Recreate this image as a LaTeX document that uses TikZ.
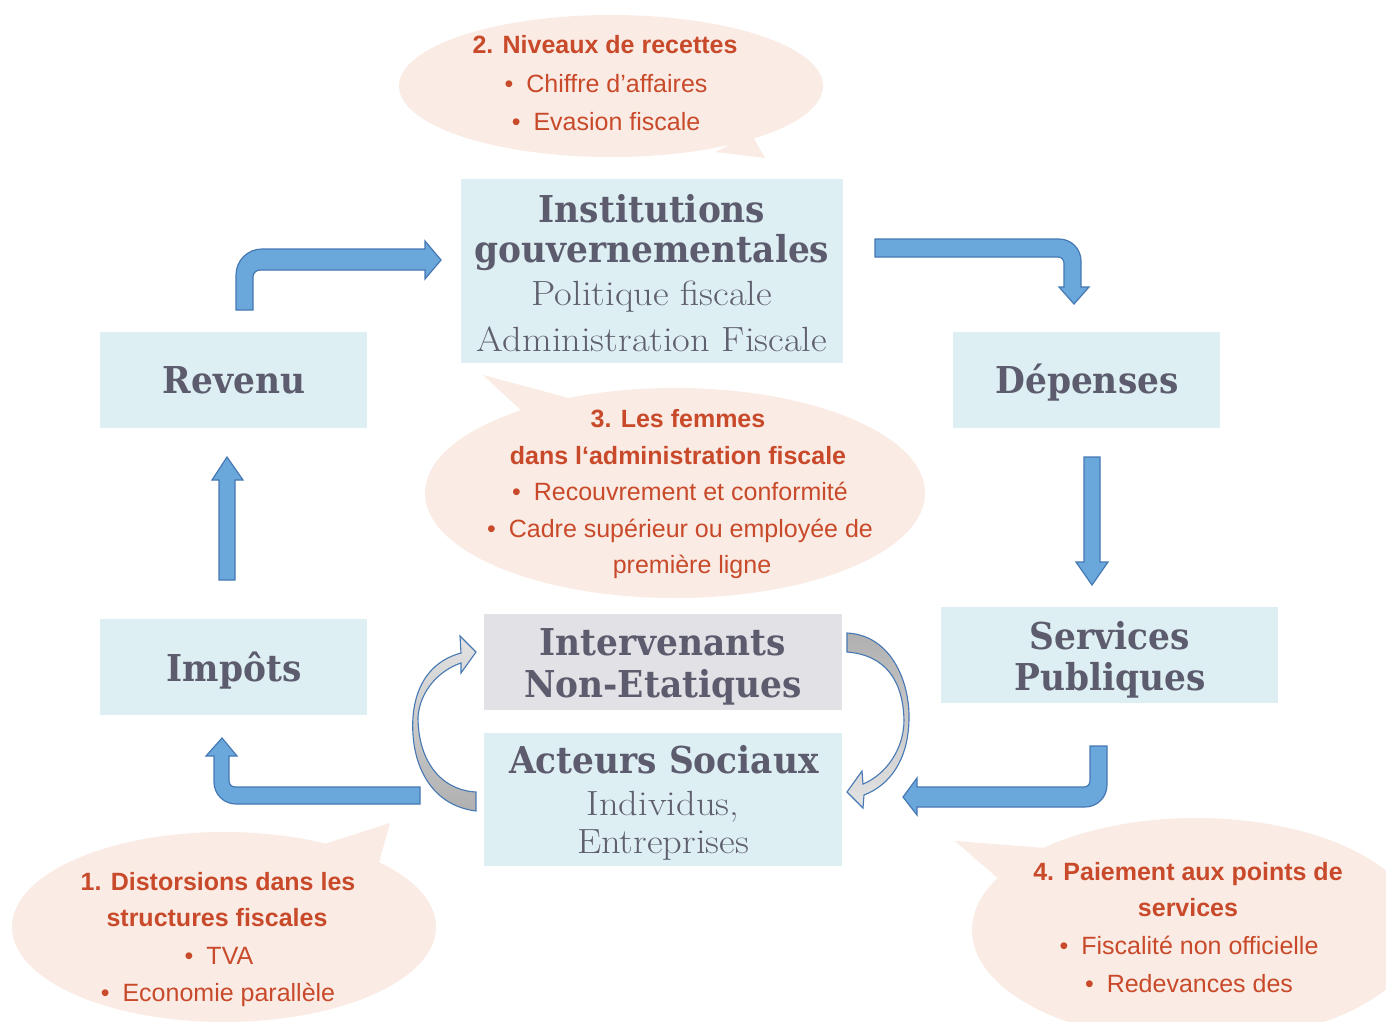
\documentclass[tikz,border=0pt]{standalone}
\usepackage{fontspec}
\newfontfamily\calfont{Liberation Sans}
\newfontfamily\slabfont[FakeStretch=0.93]{DejaVu Serif}
\newfontfamily\lightfont[FakeStretch=1.1]{Latin Modern Roman}
\definecolor{calfill}{RGB}{250,235,228}
\definecolor{caltext}{RGB}{200,74,42}
\definecolor{boxfill}{RGB}{221,239,242}
\definecolor{grayfill}{RGB}{225,225,230}
\definecolor{titletext}{RGB}{92,92,110}
\definecolor{lighttext}{RGB}{95,95,110}
\definecolor{arrowblue}{RGB}{106,168,220}
\definecolor{arrowedge}{RGB}{70,120,180}
\begin{document}
\begin{tikzpicture}[x=1pt,y=-1pt,
  callout/.style={fill=calfill,draw=none},
  box/.style={fill=boxfill,draw=none,anchor=north west,inner sep=0pt},
  ctext/.style={anchor=base,inner sep=0pt,text=caltext,font=\calfont\fontsize{25}{30}\selectfont},
  cbold/.style={anchor=base,inner sep=0pt,text=caltext,font=\calfont\bfseries\fontsize{25}{30}\selectfont},
  ttl/.style={anchor=base,inner sep=0pt,text=titletext,font=\slabfont\bfseries\fontsize{37}{40}\selectfont},
  lgt/.style={anchor=base,inner sep=0pt,text=lighttext,font=\lightfont\fontsize{35}{40}\selectfont},
  bluearrow/.style={fill=arrowblue,draw=arrowedge,line width=1.2pt,line join=miter},
  grayarrow/.style={draw=arrowedge,line width=1.1pt,line join=miter}]
\useasboundingbox (0,0) rectangle (1386,1021);
\clip (0,0) rectangle (1386,1021);
\fill[white] (0,0) rectangle (1386,1021);

% ---------- callouts ----------
\fill[callout] (611,86) ellipse [x radius=212, y radius=71];
\fill[callout] (715,152) -- (765,158) -- (752,135) -- cycle;
\fill[callout] (675,493) ellipse [x radius=250, y radius=105];
\fill[callout] (525,414) -- (483,375) -- (580,401) -- cycle;
\fill[callout] (224,927) ellipse [x radius=212, y radius=95];
\fill[callout] (315,847) -- (390,823) -- (378,866) -- cycle;
\fill[callout] (1196,930) ellipse [x radius=224, y radius=112];
\fill[callout] (1045,848) -- (955,841) -- (1000,880) -- cycle;

\node[cbold] (c2a) at (605,53) {2. Niveaux de recettes};
\node[ctext] (c2b) at (606,92) {•\hspace{13pt}Chiffre d’affaires};
\node[ctext] (c2c) at (606,130) {•\hspace{13pt}Evasion fiscale};

\node[cbold] (c3a) at (678,427) {3. Les femmes};
\node[cbold] (c3b) at (678,464) {dans l‘administration fiscale};
\node[ctext] (c3c) at (680,500) {•\hspace{13pt}Recouvrement et conformité};
\node[ctext] (c3d) at (680,537) {•\hspace{13pt}Cadre supérieur ou employée de};
\node[ctext] (c3e) at (692,573) {première ligne};

\node[cbold] (c1a) at (218,890) {1. Distorsions dans les};
\node[cbold] (c1b) at (217,926) {structures fiscales};
\node[ctext] (c1c) at (219,964) {•\hspace{13pt}TVA};
\node[ctext] (c1d) at (218,1001) {•\hspace{13pt}Economie parallèle};

\node[cbold] (c4a) at (1188,880) {4. Paiement aux points de};
\node[cbold] (c4b) at (1188,916) {services};
\node[ctext] (c4c) at (1189,954) {•\hspace{13pt}Fiscalité non officielle};
\node[ctext] (c4d) at (1189,992) {•\hspace{13pt}Redevances des};

% ---------- boxes ----------
\node[box,minimum width=382,minimum height=184] (inst) at (461,179) {};
\node[box,minimum width=267,minimum height=96] (rev) at (100,332) {};
\node[box,minimum width=267,minimum height=96] (dep) at (953,332) {};
\node[box,minimum width=267,minimum height=96] (imp) at (100,619) {};
\node[box,minimum width=337,minimum height=96] (serv) at (941,607) {};
\node[box,fill=grayfill,minimum width=358,minimum height=96] (inter) at (484,614) {};
\node[box,minimum width=358,minimum height=133] (act) at (484,733) {};

\node[ttl] (t1) at (652,222) {Institutions};
\node[ttl] (t2) at (652,262) {gouvernementales};
\node[lgt] (t3) at (652,305) {Politique fiscale};
\node[lgt] (t4) at (652,351) {Administration Fiscale};
\node[ttl] (trev) at (234,393) {Revenu};
\node[ttl] (tdep) at (1087,393) {Dépenses};
\node[ttl] (timp) at (234,681) {Impôts};
\node[ttl] (ts1) at (1110,649) {Services};
\node[ttl] (ts2) at (1110,690) {Publiques};
\node[ttl] (ti1) at (663,655) {Intervenants};
\node[ttl] (ti2) at (663,697) {Non-Etatiques};
\node[ttl] (ta1) at (664,773) {Acteurs Sociaux};
\node[lgt] (ta2) at (663,815) {Individus,};
\node[lgt] (ta3) at (663,853) {Entreprises};

% ---------- blue arrows ----------
% Revenu -> Institutions
\path[bluearrow] (236,310) -- (236,275) .. controls (236,260.6) and (247.6,249) .. (262,249)
  -- (425,249) -- (425,241) -- (441,260) -- (425,279) -- (425,270) -- (260,270)
  .. controls (256.1,270) and (253,273.1) .. (253,277) -- (253,310) -- cycle;
% Institutions -> Depenses
\path[bluearrow] (875,239) -- (1059,239) .. controls (1071.2,239) and (1081,248.8) .. (1081,261)
  -- (1081,287) -- (1089,287) -- (1074,304) -- (1059,287) -- (1064,287) -- (1064,263)
  .. controls (1064,259.7) and (1061.3,257) .. (1058,257) -- (875,257) -- cycle;
% Depenses -> Services
\path[bluearrow] (1084,457) -- (1100,457) -- (1100,562) -- (1108,562) -- (1092,585)
  -- (1076,562) -- (1084,562) -- cycle;
% Services -> Acteurs
\path[bluearrow] (1090,746) -- (1107,746) -- (1107,785) .. controls (1107,797.2) and (1097.2,807) .. (1085,807)
  -- (917,807) -- (917,815) -- (903,797) -- (917,778) -- (917,787) -- (1084,787)
  .. controls (1087.3,787) and (1090,784.3) .. (1090,781) -- cycle;
% Acteurs -> Impots
\path[bluearrow] (420,787) -- (420,804) -- (236,804) .. controls (223.8,804) and (214,794.2) .. (214,782)
  -- (214,756) -- (206,756) -- (222,738) -- (237,756) -- (229,756) -- (229,781)
  .. controls (229,784.3) and (231.7,787) .. (235,787) -- cycle;
% Impots -> Revenu
\path[bluearrow] (219,580) -- (235,580) -- (235,480) -- (243,480) -- (227,457)
  -- (212,480) -- (219,480) -- cycle;

% ---------- gray curved arrows ----------
\path[grayarrow,top color=gray!22,bottom color=gray!62]
  (476,811) .. controls (428,805) and (410,760) .. (413,717)
  .. controls (416,680) and (435,660) .. (461,653) -- (460,636) -- (476,652) -- (461,673) -- (461,663)
  .. controls (440,670) and (420,690) .. (418,717)
  .. controls (418,760) and (440,790) .. (476,792) -- cycle;
\path[grayarrow,top color=gray!62,bottom color=gray!22]
  (847,633) .. controls (890,635) and (910,680) .. (909,720)
  .. controls (908,760) and (890,785) .. (864,795) -- (863,808) -- (847,792) -- (862,771) -- (863,784)
  .. controls (885,775) and (904,750) .. (904,720)
  .. controls (903,680) and (885,655) .. (847,652) -- cycle;
\end{tikzpicture}
\end{document}
